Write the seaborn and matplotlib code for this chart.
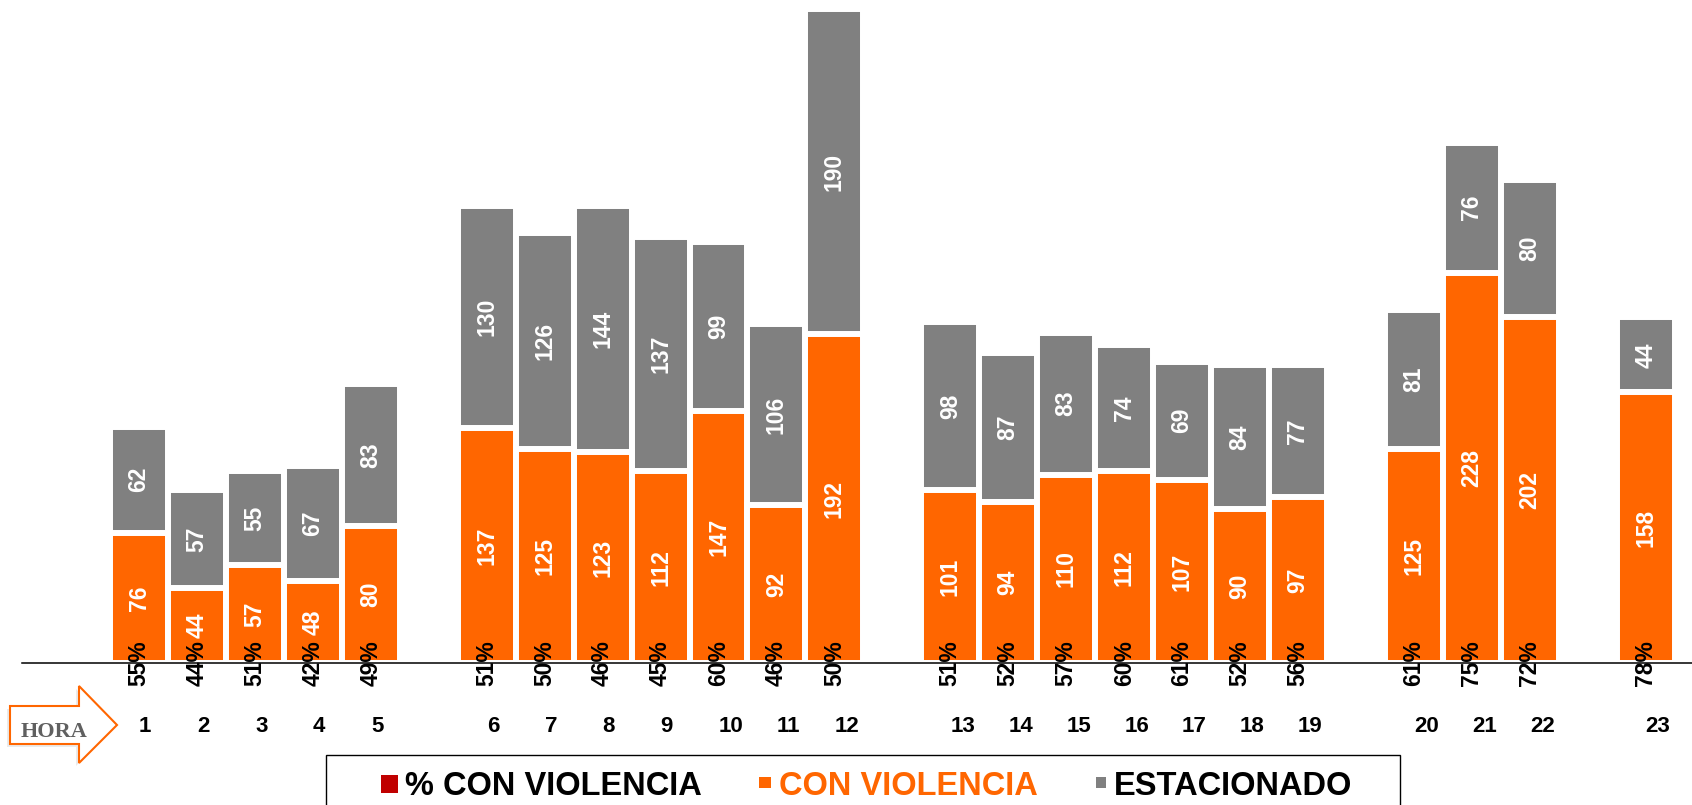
import matplotlib
matplotlib.use("Agg")
import matplotlib.pyplot as plt
import matplotlib.transforms as mtransforms
from matplotlib.patches import Polygon, Rectangle
import seaborn as sns
import numpy as np
import pandas as pd

# data
hours = list(range(1, 24))
con_violencia = [76, 44, 57, 48, 80, 137, 125, 123, 112, 147, 92, 192,
                 101, 94, 110, 112, 107, 90, 97, 125, 228, 202, 158]
estacionado = [62, 57, 55, 67, 83, 130, 126, 144, 137, 99, 106, 190,
               98, 87, 83, 74, 69, 84, 77, 81, 76, 80, 44]
pct_violencia = [55, 44, 51, 42, 49, 51, 50, 46, 45, 60, 46, 50,
                 51, 52, 57, 60, 61, 52, 56, 61, 75, 72, 78]
group_ends = [5, 12, 19, 22]  # an empty slot follows these hours

ORANGE = "#FF6600"
GRAY = "#808080"
RED = "#C00000"

W, H = 1692, 805

sns.set_style("white")
plt.rcParams["font.family"] = ["Liberation Sans", "DejaVu Sans"]

# slot positions with gaps between groups
pos = []
p = 0
for h in hours:
    pos.append(p)
    p += 2 if h in group_ends else 1

df = pd.DataFrame({"hora": hours, "pos": pos, "cv": con_violencia,
                   "est": estacionado, "pct": pct_violencia})
df["total"] = df["cv"] + df["est"]

fig = plt.figure(figsize=(W / 100, H / 100), dpi=100)


def fx(px):
    return px / W


def fy(py):
    return 1 - py / H


# axes: baseline at y=663px, top at 9px
ax = fig.add_axes([fx(22), fy(663), fx(1692) - fx(22), fy(9) - fy(663)])

sns.barplot(data=df, x="pos", y="total", native_scale=True, width=1.0,
            color=GRAY, saturation=1, edgecolor="white", linewidth=4.3,
            errorbar=None, ax=ax)
sns.barplot(data=df, x="pos", y="cv", native_scale=True, width=1.0,
            color=ORANGE, saturation=1, edgecolor="white", linewidth=4.3,
            errorbar=None, ax=ax)

ax.set_xlim(-2.02, 26.8)
ax.set_ylim(0, 382)
ax.set_xticks([])
ax.set_yticks([])
ax.set_xlabel("")
ax.set_ylabel("")
for s in ["top", "right", "left"]:
    ax.spines[s].set_visible(False)
ax.spines["bottom"].set_color("black")
ax.spines["bottom"].set_linewidth(1.1)
ax.spines["bottom"].set_zorder(5)

for _, r in df.iterrows():
    ax.text(r["pos"], r["cv"] / 2, str(r["cv"]), rotation=90, ha="center",
            va="center", color="white", fontsize=16.5, fontweight="bold", zorder=6)
    ax.text(r["pos"], r["cv"] + r["est"] / 2, str(r["est"]), rotation=90,
            ha="center", va="center", color="white", fontsize=16.5,
            fontweight="bold", zorder=6)
    ax.text(r["pos"], 0, f"{r['pct']}%", rotation=90, ha="center", va="center",
            color="black", fontsize=16.5, fontweight="bold", zorder=7)

# hour labels under the bars
trans = mtransforms.blended_transform_factory(ax.transData, fig.transFigure)
for _, r in df.iterrows():
    ax.text(r["pos"], fy(732), str(r["hora"]), transform=trans, ha="left",
            va="baseline", fontsize=16, fontweight="bold", color="black")

# HORA arrow
arrow_px = [(10, 706), (79, 706), (79, 686), (117, 725), (79, 763), (79, 744), (10, 744)]
shadow = Polygon([(fx(x - 3), fy(y + 3)) for x, y in arrow_px], closed=True,
                 transform=fig.transFigure, facecolor="#000000", alpha=0.08,
                 edgecolor="none")
fig.patches.append(shadow)
arrow = Polygon([(fx(x), fy(y)) for x, y in arrow_px], closed=True,
                transform=fig.transFigure, facecolor="white", edgecolor=ORANGE,
                linewidth=1.5)
fig.patches.append(arrow)
fig.text(fx(54), fy(737), "HORA", ha="center", va="baseline", fontsize=16,
         fontweight="bold", color="#606060", family=["Liberation Serif", "DejaVu Serif"])

# legend box
box = Rectangle((fx(326), fy(820)), fx(1400) - fx(326), fy(755) - fy(820),
                transform=fig.transFigure, facecolor="white", edgecolor="black",
                linewidth=1.0)
fig.patches.append(box)

items = [
    ("% CON VIOLENCIA", RED, "black", (381, 775, 17, 18), 405),
    ("CON VIOLENCIA", ORANGE, ORANGE, (759, 777, 12, 11), 779),
    ("ESTACIONADO", GRAY, "black", (1096, 777, 10, 11), 1114),
]
for label, sq_color, txt_color, (sx, sy, sw, sh), tx in items:
    sq = Rectangle((fx(sx), fy(sy + sh)), fx(sw), sh / H,
                   transform=fig.transFigure, facecolor=sq_color, edgecolor="none")
    fig.patches.append(sq)
    fig.text(fx(tx), fy(795), label, ha="left", va="baseline", fontsize=23.5,
             fontweight="bold", color=txt_color)

fig.savefig("out.png", dpi=100)
